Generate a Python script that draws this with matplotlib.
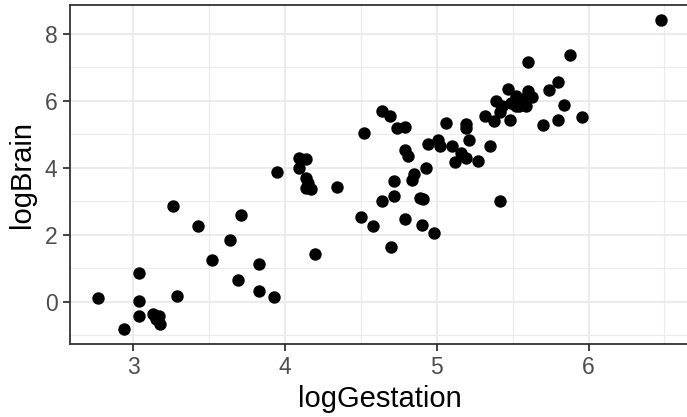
import numpy as np
import matplotlib
matplotlib.use("Agg")
import matplotlib.pyplot as plt
from matplotlib.ticker import MultipleLocator

# values
log_gestation = [
    2.77, 2.94, 3.04, 3.04, 3.04, 3.13, 3.17, 3.15, 3.18, 3.26,
    3.29, 3.43, 3.52, 3.64, 3.71, 3.69, 3.83, 3.83, 3.93, 3.95,
    4.09, 4.14, 4.09, 4.14, 4.15, 4.14, 4.17, 4.34, 4.20, 4.52,
    4.50, 4.58, 4.64, 4.69, 4.74, 4.79, 4.79, 4.81, 4.72, 4.72,
    4.64, 4.79, 4.70, 4.85, 4.84, 4.89, 4.91, 4.90, 4.98, 4.93,
    4.94, 5.01, 5.02, 5.06, 5.10, 5.12, 5.16, 5.19, 5.19, 5.19,
    5.21, 5.27, 5.32, 5.35, 5.42, 5.38, 5.39, 5.42, 5.43, 5.47,
    5.48, 5.49, 5.52, 5.55, 5.59, 5.60, 5.63, 5.60, 5.74, 5.80,
    5.84, 5.88, 5.70, 5.80, 5.96, 6.48, 5.54, 5.56, 5.52,
]
log_brain = [
    0.10, -0.80, 0.86, 0.02, -0.42, -0.38, -0.42, -0.52, -0.66, 2.85,
    0.17, 2.25, 1.24, 1.83, 2.58, 0.64, 1.13, 0.31, 0.14, 3.86,
    4.30, 4.26, 3.98, 3.70, 3.55, 3.40, 3.38, 3.43, 1.44, 5.04,
    2.53, 2.27, 5.69, 5.54, 5.19, 5.22, 4.54, 4.35, 3.60, 3.17,
    3.00, 2.47, 1.64, 3.80, 3.64, 3.11, 3.07, 2.28, 2.04, 3.99,
    4.72, 4.82, 4.64, 5.34, 4.66, 4.16, 4.44, 4.29, 5.30, 5.18,
    4.82, 4.19, 5.55, 4.64, 3.01, 5.38, 6.00, 5.65, 5.83, 6.36,
    5.41, 5.93, 6.13, 5.98, 5.83, 6.30, 6.10, 7.16, 6.31, 6.56,
    5.88, 7.36, 5.28, 5.42, 5.52, 8.40, 5.83, 6.05, 5.85,
]

x = np.array(log_gestation)
y = np.array(log_brain)

plt.rcParams["font.family"] = ["Liberation Sans", "DejaVu Sans"]

fig = plt.figure(figsize=(6.87, 4.17), dpi=100)
ax = fig.add_axes([0.1019, 0.1751, 0.9018, 0.8132])

ax.scatter(x, y, s=80, color="black", linewidths=0, zorder=3)

# ggplot-style 5% expansion
def expand(v):
    r = v.max() - v.min()
    return v.min() - 0.05 * r, v.max() + 0.05 * r

ax.set_xlim(*expand(x))
ax.set_ylim(*expand(y))

ax.xaxis.set_major_locator(MultipleLocator(1))
ax.xaxis.set_minor_locator(MultipleLocator(0.5))
ax.yaxis.set_major_locator(MultipleLocator(2))
ax.yaxis.set_minor_locator(MultipleLocator(1))

ax.grid(which="major", color="#EBEBEB", linewidth=1.5)
ax.grid(which="minor", color="#EBEBEB", linewidth=0.8)
ax.set_axisbelow(True)

for sp in ax.spines.values():
    sp.set_color("#333333")
    sp.set_linewidth(1.3)
# the panel runs past the right edge of the picture in the reference
ax.spines["right"].set_visible(False)

ax.tick_params(which="major", length=5, width=1.3, color="#333333",
               labelsize=16.5, labelcolor="#4D4D4D", pad=4)
ax.tick_params(which="minor", length=0)

ax.set_xlabel("logGestation", fontsize=21, labelpad=4)
ax.set_ylabel("logBrain", fontsize=21, labelpad=6)

fig.savefig("out.png", dpi=100)
